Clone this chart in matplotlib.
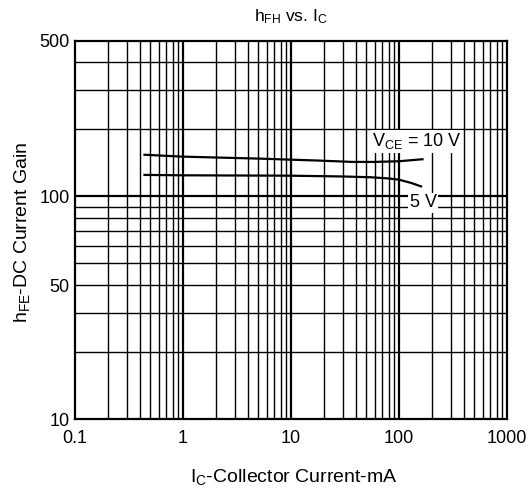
import matplotlib
matplotlib.use('Agg')
import matplotlib.pyplot as plt
from matplotlib.ticker import NullLocator, NullFormatter

plt.rcParams['font.family'] = ['Liberation Sans', 'DejaVu Sans']
plt.rcParams['mathtext.fontset'] = 'custom'
plt.rcParams['mathtext.rm'] = 'Liberation Sans'

# data
ic_10v = [0.44, 1, 5, 18, 37, 60, 100, 165]
hfe_10v = [154, 151, 148, 145, 143, 143, 144, 147]
ic_5v = [0.44, 1, 10, 30, 55, 80, 100, 130, 160]
hfe_5v = [125, 124.5, 124, 123, 122, 120.5, 119, 115, 111]

xtick_vals = [0.1, 1, 10, 100, 1000]
xtick_labels = ['0.1', '1', '10', '100', '1000']
ytick_vals = [10, 40, 100, 500]
ytick_labels = ['10', '50', '100', '500']

xgrid = [0.2, 0.3, 0.4, 0.5, 0.6, 0.7, 0.8, 0.9,
         2, 3, 4, 5, 6, 7, 8, 9,
         20, 30, 40, 50, 60, 70, 80, 90,
         200, 300, 400, 500, 600, 700, 800, 900]
xgrid_major = [1, 10, 100]
ygrid = [20, 30, 40, 50, 60, 70, 80, 90, 200, 300, 400]
ygrid_major = [100]

fig = plt.figure(figsize=(5.32, 4.93), dpi=100)
ax = fig.add_axes([0.141, 0.150, 0.812, 0.767])
ax.set_xscale('log')
ax.set_yscale('log')
ax.set_xlim(0.1, 1000)
ax.set_ylim(10, 500)

for v in xgrid:
    ax.axvline(v, color='black', lw=1.0, zorder=1)
for v in xgrid_major:
    ax.axvline(v, color='black', lw=1.6, zorder=1)
for v in ygrid:
    ax.axhline(v, color='black', lw=1.0, zorder=1)
for v in ygrid_major:
    ax.axhline(v, color='black', lw=1.6, zorder=1)

ax.plot(ic_10v, hfe_10v, color='black', lw=1.6, zorder=3)
ax.plot(ic_5v, hfe_5v, color='black', lw=1.6, zorder=3)

ax.text(147, 177, r'$\mathregular{V_{CE}}$ = 10 V', fontsize=13, ha='center', va='center',
        zorder=2, bbox=dict(facecolor='white', edgecolor='none', pad=1.0))
ax.text(167, 93.5, '5 V', fontsize=13, ha='center', va='center',
        zorder=2, bbox=dict(facecolor='white', edgecolor='none', pad=1.0))

ax.xaxis.set_minor_locator(NullLocator())
ax.yaxis.set_minor_locator(NullLocator())
ax.xaxis.set_minor_formatter(NullFormatter())
ax.yaxis.set_minor_formatter(NullFormatter())
ax.set_xticks(xtick_vals)
ax.set_xticklabels(xtick_labels)
ax.set_yticks(ytick_vals)
ax.set_yticklabels(ytick_labels)
ax.tick_params(axis='both', length=0, labelsize=13)
ax.tick_params(axis='x', pad=8)
ax.tick_params(axis='y', pad=4)

for s in ax.spines.values():
    s.set_linewidth(1.6)
    s.set_zorder(4)

fig.text(0.547, 1 - 17 / 493, r'$\mathregular{h_{FH}}$ vs. $\mathregular{I_{C}}$',
         fontsize=12.5, ha='center', va='center')
fig.text(22 / 532, 1 - 232 / 493, r'$\mathregular{h_{FE}}$-DC Current Gain',
         fontsize=14, rotation=90, ha='center', va='center')
fig.text(0.553, 1 - 477 / 493, r'$\mathregular{I_{C}}$-Collector Current-mA',
         fontsize=14, ha='center', va='center')

fig.savefig('out.png', dpi=100)
